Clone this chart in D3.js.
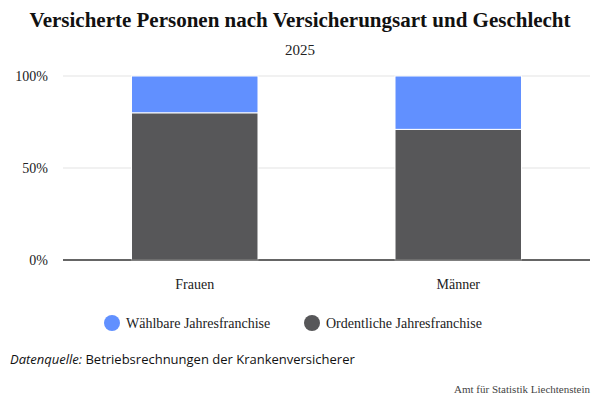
<!DOCTYPE html>
<html><head><meta charset="utf-8">
<script src="https://cdn.jsdelivr.net/npm/d3@7"></script>
<style>body{margin:0;background:#fff}</style></head>
<body><svg id="c" width="600" height="400"></svg>
<script>
const categories = ["Frauen", "Männer"];
const ordentlich = [80, 71];
const waehlbar = [20, 29];
const seriesNames = ["Wählbare Jahresfranchise", "Ordentliche Jahresfranchise"];
const colors = ["#6190ff", "#575759"];
const yTicks = [0, 50, 100];

const svg = d3.select("#c");
const serif = "'Liberation Serif', 'Times New Roman', serif";
svg.append("text").attr("x",300).attr("y",27).attr("text-anchor","middle")
  .attr("font-family",serif).attr("font-weight","bold").attr("font-size",21).attr("fill","#111")
  .text("Versicherte Personen nach Versicherungsart und Geschlecht");
svg.append("text").attr("x",300).attr("y",55).attr("text-anchor","middle")
  .attr("font-family",serif).attr("font-size",15).attr("fill","#222").text("2025");

const x = d3.scaleBand().domain(categories).range([63,590]).paddingInner(0.52).paddingOuter(0.26);
const y = d3.scaleLinear().domain([0,100]).range([260,76]);

const g = svg.append("g");
yTicks.forEach(t=>{
  g.append("line").attr("x1",63).attr("x2",590).attr("y1",y(t)).attr("y2",y(t))
   .attr("stroke",t===0?"#333":"#e3e3e3").attr("stroke-width",t===0?1.2:1);
  g.append("text").attr("x",48).attr("y",y(t)+5).attr("text-anchor","end")
   .attr("font-family",serif).attr("font-size",14).attr("fill","#222").text(t+"%");
});
categories.forEach((c,i)=>{
  g.append("rect").attr("x",x(c)).attr("width",x.bandwidth()).attr("y",y(ordentlich[i]))
   .attr("height",y(0)-y(ordentlich[i])).attr("fill",colors[1]).attr("stroke","#fff").attr("stroke-width",1);
  g.append("rect").attr("x",x(c)).attr("width",x.bandwidth()).attr("y",y(ordentlich[i]+waehlbar[i]))
   .attr("height",y(ordentlich[i])-y(ordentlich[i]+waehlbar[i])).attr("fill",colors[0]).attr("stroke","#fff").attr("stroke-width",1);
  g.append("text").attr("x",x(c)+x.bandwidth()/2).attr("y",289).attr("text-anchor","middle")
   .attr("font-family",serif).attr("font-size",14).attr("fill","#222").text(c);
});
y(0);
g.append("line").attr("x1",63).attr("x2",590).attr("y1",260).attr("y2",260).attr("stroke","#333").attr("stroke-width",1.2);

const legX = [112, 312];
seriesNames.forEach((n,i)=>{
  svg.append("circle").attr("cx",legX[i]).attr("cy",323).attr("r",8).attr("fill",colors[i]);
  svg.append("text").attr("x",legX[i]+14).attr("y",328).attr("font-family",serif).attr("font-size",14).attr("fill","#222").text(n);
});
const src = svg.append("text").attr("x",10).attr("y",364).attr("font-family","'Open Sans', sans-serif").attr("font-size",13).attr("fill","#111");
src.append("tspan").attr("font-style","italic").text("Datenquelle:");
src.append("tspan").text(" Betriebsrechnungen der Krankenversicherer");
svg.append("text").attr("x",590).attr("y",393).attr("text-anchor","end").attr("font-family",serif)
  .attr("font-size",11).attr("fill","#444").text("Amt für Statistik Liechtenstein");
</script></body></html>
